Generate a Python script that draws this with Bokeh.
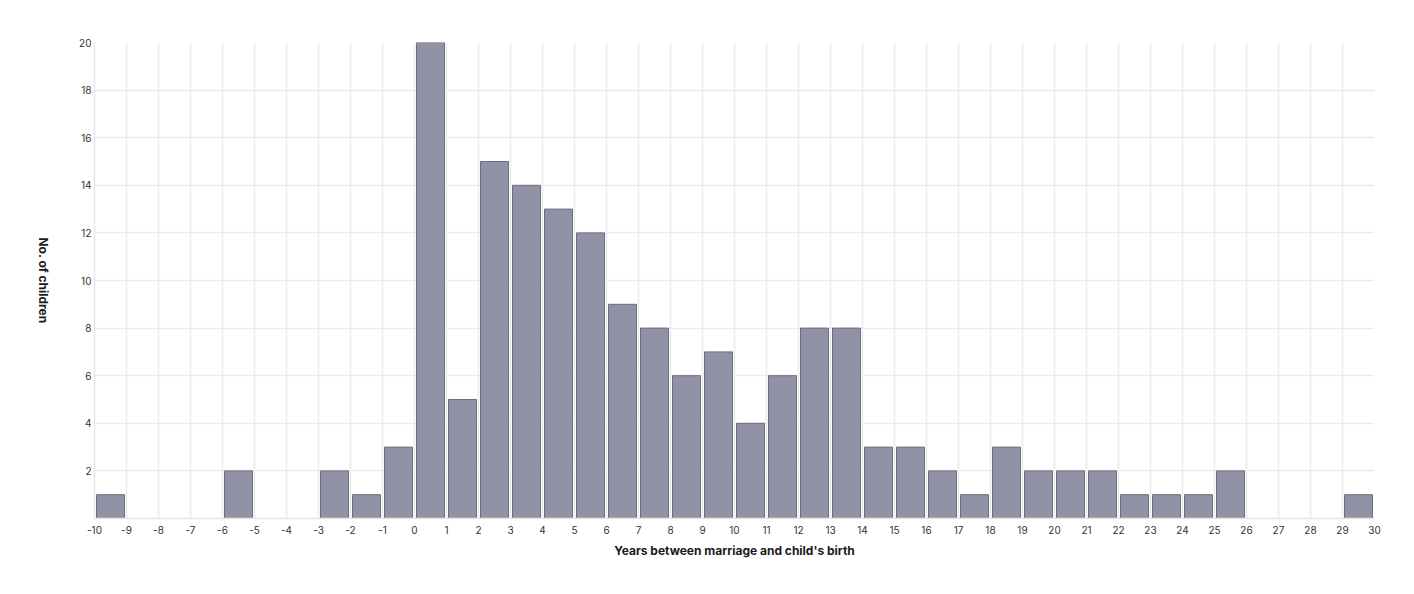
import math
from bokeh.plotting import figure
from bokeh.layouts import row
from bokeh.models import FixedTicker, ColumnDataSource, Range1d
from bokeh.core.properties import value
from bokeh.embed import file_html
from bokeh.resources import INLINE

# Years between marriage and child's birth (bin start) and number of children
years = list(range(-10, 30))
counts = [1, 0, 0, 0, 2, 0, 0, 2, 1, 3,
          20, 5, 15, 14, 13, 12, 9, 8, 6, 7,
          4, 6, 8, 8, 3, 3, 2, 1, 3, 2,
          2, 2, 1, 1, 1, 2, 0, 0, 0, 1]
x_ticks = list(range(-10, 31))
y_ticks = list(range(2, 21, 2))
x_title = "Years between marriage and child's birth"
y_title = "No. of children"

FONT = "Inter"
H = 578
LEFT_W = 60

# narrow side panel carrying the y title, which reads top-to-bottom
side = figure(width=LEFT_W, height=H, output_backend="svg", toolbar_location=None,
              x_range=Range1d(0, LEFT_W), y_range=Range1d(0, H),
              min_border=0, x_axis_type=None, y_axis_type=None)
side.outline_line_color = None
side.grid.visible = False
side.text(x=[42.5], y=[H - 289], text=[y_title], angle=-math.pi / 2,
          text_align="center", text_baseline="middle",
          text_font=value(FONT), text_font_size="12px",
          text_font_style="bold", text_color="#1a1a1a")

src = ColumnDataSource(dict(x=[y + 0.5 for y in years], top=counts))

p = figure(width=1398 - LEFT_W, height=H, output_backend="svg", toolbar_location=None,
           x_range=Range1d(-10, 30), y_range=Range1d(0, 20),
           min_border_left=94 - LEFT_W, min_border_right=24, min_border_top=42,
           min_border_bottom=60)
p.outline_line_color = None

p.vbar(x="x", top="top", bottom=0, width=0.875, source=src,
       fill_color="#9292a6", line_color="#6c6c82", line_width=1)

p.xaxis.ticker = FixedTicker(ticks=x_ticks)
p.yaxis.ticker = FixedTicker(ticks=y_ticks)
p.xaxis.major_label_overrides = {t: str(t) for t in x_ticks}
p.yaxis.major_label_overrides = {t: str(t) for t in y_ticks}
for ax in (p.xaxis[0], p.yaxis[0]):
    ax.major_tick_line_color = None
    ax.minor_tick_line_color = None
    ax.major_tick_out = 0
    ax.major_tick_in = 0
    ax.minor_tick_out = 0
    ax.axis_line_color = "#e6e6e6"
    ax.axis_line_width = 1.5
    ax.major_label_text_font = FONT
    ax.major_label_text_font_size = "10px"
    ax.major_label_text_color = "#333333"
    ax.axis_label_text_font = FONT
    ax.axis_label_text_font_size = "12px"
    ax.axis_label_text_font_style = "bold"
    ax.axis_label_text_color = "#1a1a1a"

p.xaxis.axis_label = x_title
p.xaxis.major_label_standoff = 7
p.xaxis.axis_label_standoff = 6
p.yaxis.major_label_standoff = 3

p.xgrid.ticker = FixedTicker(ticks=x_ticks)
p.ygrid.ticker = FixedTicker(ticks=y_ticks)
for g in (p.xgrid[0], p.ygrid[0]):
    g.grid_line_color = "#ebebeb"
    g.grid_line_width = 1.5

layout = row(side, p, spacing=0)
open("out.html", "w").write(file_html(layout, INLINE))
